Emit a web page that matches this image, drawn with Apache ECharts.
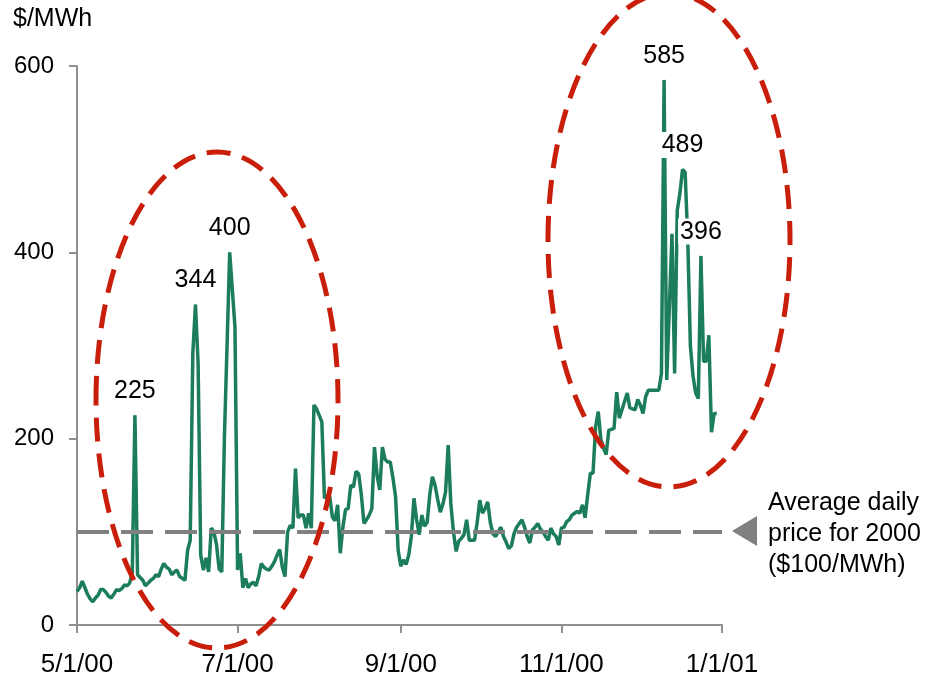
<!DOCTYPE html>
<html>
<head>
<meta charset="utf-8">
<script src="https://cdn.jsdelivr.net/npm/echarts@6/dist/echarts.min.js"></script>
<style>
  html, body { margin: 0; padding: 0; background: #fff; }
  #chart { width: 931px; height: 681px; }
</style>
</head>
<body>
<div id="chart"></div>
<script>
// Daily wholesale electricity price, $/MWh, one value per day from 5/1/00
const dailyPrice = [
  36, 40, 47, 40, 33, 28, 25, 29, 32, 38,
  38, 35, 31, 29, 33, 38, 37, 39, 43, 42,
  45, 56, 225, 54, 51, 48, 42, 45, 48, 50,
  54, 52, 60, 66, 62, 60, 54, 57, 59, 52,
  50, 48, 80, 91, 292, 344, 281, 75, 59, 72,
  57, 104, 100, 86, 60, 57, 202, 300, 400, 360,
  320, 59, 77, 40, 50, 40, 44, 46, 42, 52,
  66, 62, 60, 59, 63, 68, 75, 81, 62, 52,
  100, 107, 104, 168, 115, 118, 118, 104, 120, 104,
  236, 232, 225, 218, 136, 139, 138, 116, 112, 129,
  77, 105, 124, 125, 150, 148, 165, 162, 140, 109,
  113, 118, 125, 191, 160, 145, 191, 178, 175, 175,
  158, 138, 80, 63, 70, 65, 75, 95, 136, 113,
  97, 118, 106, 110, 140, 159, 150, 135, 121, 130,
  143, 193, 130, 100, 79, 90, 93, 97, 113, 91,
  91, 91, 110, 134, 120, 125, 132, 110, 98, 95,
  100, 105, 95, 89, 82, 85, 98, 105, 109, 113,
  105, 95, 88, 102, 105, 109, 103, 100, 95, 91,
  104, 98, 95, 86, 104, 105, 111, 113, 118, 120,
  122, 120, 129, 115, 140, 163, 163, 213, 229, 199,
  190, 183, 209, 210, 211, 250, 222, 231, 240, 249,
  233, 232, 231, 242, 236, 227, 245, 252, 252, 252,
  252, 252, 270, 585, 263, 341, 420, 270, 445, 463,
  489, 486, 413, 299, 267, 249, 243, 396, 283, 283,
  311, 207, 227, 227
];

// Days whose price is called out with a number
const labeledDays = [22, 45, 58, 223, 230, 237];

// Annual average price
const avgPrice = 100;

// Dates shown under the horizontal axis
const tickDates = ['5/1/00', '7/1/00', '9/1/00', '11/1/00', '1/1/01'];

// Vertical axis range and step
const yMin = 0, yMax = 600, yStep = 200;

// One category per calendar day, 5/1/00 through 1/1/01
const categories = [];
for (let t = Date.UTC(2000, 4, 1); t <= Date.UTC(2001, 0, 1); t += 86400000) {
  const d = new Date(t);
  const yy = String(d.getUTCFullYear() % 100).padStart(2, '0');
  categories.push((d.getUTCMonth() + 1) + '/' + d.getUTCDate() + '/' + yy);
}

const FONT = '"Liberation Sans", Arial, Helvetica, sans-serif';
const AXIS_GRAY = '#8f8f8f';
const GREEN = '#1b7d5a';
const RED = '#c81e0a';

const chart = echarts.init(document.getElementById('chart'), null, { renderer: 'canvas' });

chart.setOption({
  backgroundColor: '#ffffff',
  animation: false,
  grid: { left: 77, right: 209, top: 66, bottom: 56, containLabel: false },
  xAxis: {
    type: 'category',
    data: categories,
    boundaryGap: false,
    axisLine: { show: true, lineStyle: { color: AXIS_GRAY, width: 2 } },
    axisTick: {
      show: true, length: 8, inside: false,
      interval: (i, v) => tickDates.includes(v),
      lineStyle: { color: AXIS_GRAY, width: 2 }
    },
    axisLabel: {
      interval: (i, v) => tickDates.includes(v),
      fontFamily: FONT, fontSize: 26, color: '#000', margin: 27
    },
    splitLine: { show: false }
  },
  yAxis: {
    type: 'value',
    min: yMin, max: yMax, interval: yStep,
    axisLine: { show: true, lineStyle: { color: AXIS_GRAY, width: 2 } },
    axisTick: { show: true, length: 8, inside: false, lineStyle: { color: AXIS_GRAY, width: 2 } },
    axisLabel: { fontFamily: FONT, fontSize: 24, color: '#000', margin: 23 },
    splitLine: { show: false }
  },
  series: [
    {
      // average price reference line
      type: 'line',
      data: [],
      z: 1,
      markLine: {
        silent: true,
        symbol: ['none', 'none'],
        label: { show: false },
        lineStyle: { color: '#808080', width: 4, type: [32, 12] },
        data: [{ yAxis: avgPrice }]
      }
    },
    {
      name: 'Daily price',
      type: 'line',
      data: dailyPrice,
      z: 3,
      symbol: 'none',
      lineStyle: { color: GREEN, width: 3.5 },
      itemStyle: { color: GREEN }
    },
    {
      // value call-outs on the price spikes
      type: 'scatter',
      z: 6,
      symbolSize: 1,
      itemStyle: { color: GREEN, opacity: 1 },
      data: labeledDays.map(i => [categories[i], dailyPrice[i]]),
      label: {
        show: true,
        position: 'top',
        distance: 11,
        formatter: p => String(p.value[1]),
        fontFamily: FONT,
        fontSize: 25,
        color: '#000000',
        opacity: 1,
        backgroundColor: '#ffffff',
        padding: [1, 2, 0, 2]
      },
      emphasis: { disabled: true }
    }
  ],
  graphic: [
    {
      type: 'text', left: 13, top: 7, z: 100,
      style: { text: '$/MWh', font: '25px ' + FONT, fill: '#000' }
    },
    {
      type: 'ellipse', z: 90,
      shape: { cx: 217, cy: 400, rx: 121, ry: 248 },
      style: { fill: 'none', stroke: RED, lineWidth: 5, lineDash: [24, 12] }
    },
    {
      type: 'ellipse', z: 90,
      shape: { cx: 669, cy: 240, rx: 121, ry: 247 },
      style: { fill: 'none', stroke: RED, lineWidth: 5, lineDash: [24, 12] }
    },
    {
      type: 'polygon', z: 90,
      shape: { points: [[732, 531], [757, 516], [757, 546]] },
      style: { fill: '#808080' }
    },
    {
      type: 'text', left: 768, top: 488, z: 100,
      style: {
        text: 'Average daily\nprice for 2000\n($100/MWh)',
        font: '25px ' + FONT, fill: '#000', lineHeight: 31
      }
    }
  ]
});
</script>
</body>
</html>
